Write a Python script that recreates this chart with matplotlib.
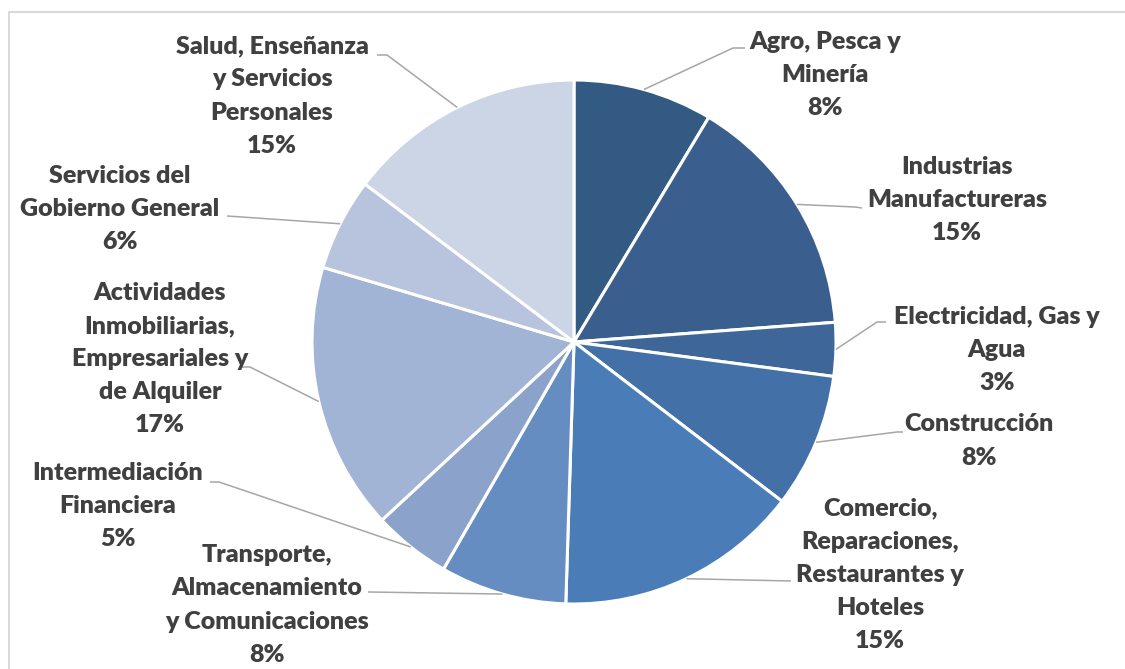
import numpy as np
import matplotlib.pyplot as plt

# sector shares (clockwise from top)
sectores = ["Agro, Pesca y\nMinería",
            "Industrias\nManufactureras",
            "Electricidad, Gas y\nAgua",
            "Construcción",
            "Comercio,\nReparaciones,\nRestaurantes y\nHoteles",
            "Transporte,\nAlmacenamiento\ny Comunicaciones",
            "Intermediación\nFinanciera",
            "Actividades\nInmobiliarias,\nEmpresariales y\nde Alquiler",
            "Servicios del\nGobierno General",
            "Salud, Enseñanza\ny Servicios\nPersonales"]
shares = [8.6, 15.2, 3.3, 8.3, 15.1, 7.8, 4.8, 16.5, 5.7, 14.7]
pct_labels = ["8%", "15%", "3%", "8%", "15%", "8%", "5%", "17%", "6%", "15%"]

colors = ["#335a82", "#3a5f8e", "#3f6699", "#4470a8", "#4a7db8",
          "#658dc2", "#8ba3cb", "#a2b4d5", "#b8c4de", "#ccd5e6"]

W, H = 1125, 669
# layout in pixel coords (x, y from top): text centre, elbow, end of leader
text_pos = [(825, 75), (957, 200), (997, 350), (979, 441), (880, 575),
            (267, 605), (118, 506), (160, 359), (120, 209), (272, 96)]
elbows = [(733, 48), (855, 207), (877, 322), (897, 432), (791, 581),
          (370, 592), (219, 482), (250, 367), (227, 216), (387, 55)]
ends = [(745, 48), (862, 208), (886, 322), (903, 432), (791, 581),
        (368, 592), (210, 482), (242, 367), (227, 216), (377, 55)]

def px(p):
    return p[0], H - p[1]

fig = plt.figure(figsize=(W / 100, H / 100), dpi=100)
ax = fig.add_axes([0, 0, 1, 1])

cx, cy, r = 574, H - 342, 262
wedges, _ = ax.pie(shares, colors=colors, startangle=90, counterclock=False,
                   center=(cx, cy), radius=r, frame=True,
                   wedgeprops=dict(edgecolor='white', linewidth=2.2))
ax.set_xlim(0, W)
ax.set_ylim(0, H)
ax.set_aspect('equal')
ax.axis('off')

for i, w in enumerate(wedges):
    ang = np.deg2rad((w.theta1 + w.theta2) / 2)
    x0, y0 = cx + r * np.cos(ang), cy + r * np.sin(ang)
    ex, ey = px(elbows[i])
    fx, fy = px(ends[i])
    ax.plot([x0, ex, fx], [y0, ey, fy], color='#a6a6a6', lw=1.1,
            solid_capstyle='butt')
    tx, ty = px(text_pos[i])
    ax.text(tx, ty, sectores[i] + "\n" + pct_labels[i], ha='center',
            va='center', fontsize=18, fontweight='heavy', family='Lato',
            color='#404040', linespacing=1.62)

# chart frame (top and left edges are visible)
ax.plot([9, 9, W + 5], [-5, H - 12, H - 12], color='#d9d9d9', lw=1.5,
        clip_on=False)

fig.savefig('out.png', dpi=100, facecolor='white')
